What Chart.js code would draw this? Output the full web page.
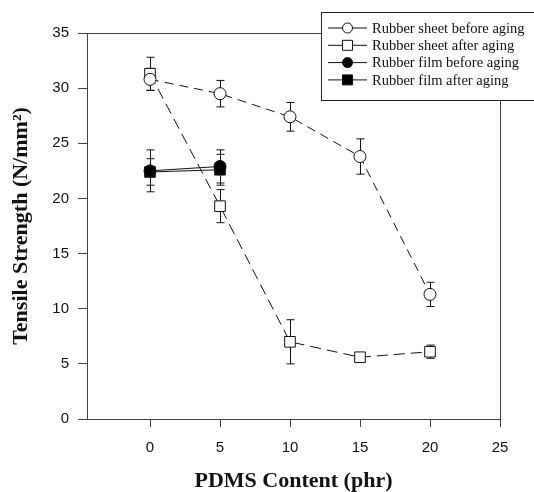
<!DOCTYPE html>
<html>
<head>
<meta charset="utf-8">
<script src="https://cdn.jsdelivr.net/npm/chart.js@4"></script>
<style>
  body { margin: 0; background: #fff; }
  canvas { display: block; }
</style>
</head>
<body>
<canvas id="tensileChart" width="534" height="492"></canvas>
<script>
const xTicks = [0, 5, 10, 15, 20, 25];
const pdms = [0, 5, 10, 15, 20];
const pdmsFilm = [0, 5];

const seriesNames = ['Rubber sheet before aging', 'Rubber sheet after aging', 'Rubber film before aging', 'Rubber film after aging'];

const sheetBefore = [30.8, 29.5, 27.4, 23.8, 11.3];
const sheetBeforeErr = [1.0, 1.2, 1.3, 1.6, 1.1];
const sheetAfter = [31.3, 19.3, 7.0, 5.6, 6.1];
const sheetAfterErr = [1.5, 1.5, 2.0, 0.3, 0.6];
const filmBefore = [22.5, 22.9];
const filmBeforeErr = [1.9, 1.5];
const filmAfter = [22.4, 22.6];
const filmAfterErr = [1.2, 1.4];

const toPts = (xs, ys) => xs.map((x, i) => ({ x: x, y: ys[i] }));

// error bars drawn under the markers
const errorBars = {
    id: 'errorBars',
    beforeDatasetsDraw(chart) {
        const ctx = chart.ctx, y = chart.scales.y;
        ctx.save();
        ctx.strokeStyle = '#111';
        ctx.lineWidth = 1;
        chart.data.datasets.forEach((ds, di) => {
            const meta = chart.getDatasetMeta(di);
            ds.data.forEach((p, i) => {
                const px = Math.round(meta.data[i].x) + 0.5;
                const top = y.getPixelForValue(p.y + ds.err[i]);
                const bot = y.getPixelForValue(p.y - ds.err[i]);
                ctx.beginPath();
                ctx.moveTo(px, top); ctx.lineTo(px, bot);
                ctx.moveTo(px - 4, top); ctx.lineTo(px + 4, top);
                ctx.moveTo(px - 4, bot); ctx.lineTo(px + 4, bot);
                ctx.stroke();
            });
        });
        ctx.restore();
    }
};

// frame on top and right + boxed legend
const frameAndLegend = {
    id: 'frameAndLegend',
    afterDraw(chart) {
        const ctx = chart.ctx, a = chart.chartArea;
        ctx.save();
        ctx.strokeStyle = '#444';
        ctx.lineWidth = 1;
        ctx.beginPath();
        ctx.moveTo(78, Math.round(a.top) + 0.5);
        ctx.lineTo(Math.round(a.right) + 0.5, Math.round(a.top) + 0.5);
        ctx.lineTo(Math.round(a.right) + 0.5, Math.round(a.bottom) + 8);
        ctx.stroke();

        ctx.fillStyle = '#fff';
        ctx.fillRect(321, 12, 230, 88);
        ctx.strokeStyle = '#222';
        ctx.strokeRect(321.5, 12.5, 230, 88);

        ctx.font = '14.5px "Liberation Serif"';
        ctx.textBaseline = 'middle';
        chart.data.datasets.forEach((ds, i) => {
            const ry = 28 + i * 17.3;
            ctx.strokeStyle = '#111';
            ctx.beginPath();
            ctx.moveTo(328, ry); ctx.lineTo(367, ry);
            ctx.stroke();
            ctx.fillStyle = ds.pointBackgroundColor;
            ctx.beginPath();
            if (ds.pointStyle === 'circle') ctx.arc(347.5, ry, 5, 0, Math.PI * 2);
            else ctx.rect(342.5, ry - 5, 10, 10);
            ctx.fill();
            ctx.stroke();
            ctx.fillStyle = '#111';
            ctx.fillText(ds.label, 372, ry + 1);
        });
        ctx.restore();
    }
};

const lineStyle = { borderColor: '#111', borderWidth: 1, pointBorderColor: '#111', pointBorderWidth: 1, tension: 0 };

new Chart(document.getElementById('tensileChart'), {
    type: 'line',
    data: {
        datasets: [
            { ...lineStyle, label: seriesNames[0], data: toPts(pdms, sheetBefore), err: sheetBeforeErr,
              borderDash: [9, 6], pointStyle: 'circle', pointRadius: 6, pointBackgroundColor: '#fff' },
            { ...lineStyle, label: seriesNames[1], data: toPts(pdms, sheetAfter), err: sheetAfterErr,
              borderDash: [11, 6], pointStyle: 'rect', pointRadius: 7.5, pointBackgroundColor: '#fff' },
            { ...lineStyle, label: seriesNames[2], data: toPts(pdmsFilm, filmBefore), err: filmBeforeErr,
              pointStyle: 'circle', pointRadius: 6, pointBackgroundColor: '#000' },
            { ...lineStyle, label: seriesNames[3], data: toPts(pdmsFilm, filmAfter), err: filmAfterErr,
              pointStyle: 'rect', pointRadius: 7.5, pointBackgroundColor: '#000' }
        ]
    },
    options: {
        responsive: false,
        animation: false,
        devicePixelRatio: 1,
        layout: { padding: { top: 33, right: 34, left: 0, bottom: 0 } },
        plugins: { legend: { display: false }, tooltip: { enabled: false } },
        scales: {
            x: {
                type: 'linear', min: -4.5, max: 25,
                afterBuildTicks: s => { s.ticks = xTicks.map(v => ({ value: v })); },
                afterFit: s => { s.height = 73; },
                grid: { drawOnChartArea: false, tickLength: 8, color: '#444' },
                border: { color: '#444' },
                ticks: { color: '#111', padding: 12, font: { family: '"Liberation Sans"', size: 15 } },
                title: { display: true, text: 'PDMS Content (phr)', color: '#111', padding: { top: 0, bottom: -3 },
                         font: { family: '"Liberation Serif"', size: 22, weight: 'bold' } }
            },
            y: {
                min: 0, max: 35,
                afterFit: s => { s.width = 87; },
                grid: { drawOnChartArea: false, tickLength: 9, color: '#444' },
                border: { color: '#444' },
                ticks: { stepSize: 5, color: '#111', padding: 9, font: { family: '"Liberation Sans"', size: 15 } },
                title: { display: true, text: 'Tensile Strength (N/mm²)', color: '#111', padding: { top: 8 },
                         font: { family: '"Liberation Serif"', size: 22, weight: 'bold' } }
            }
        }
    },
    plugins: [errorBars, frameAndLegend]
});
</script>
</body>
</html>
